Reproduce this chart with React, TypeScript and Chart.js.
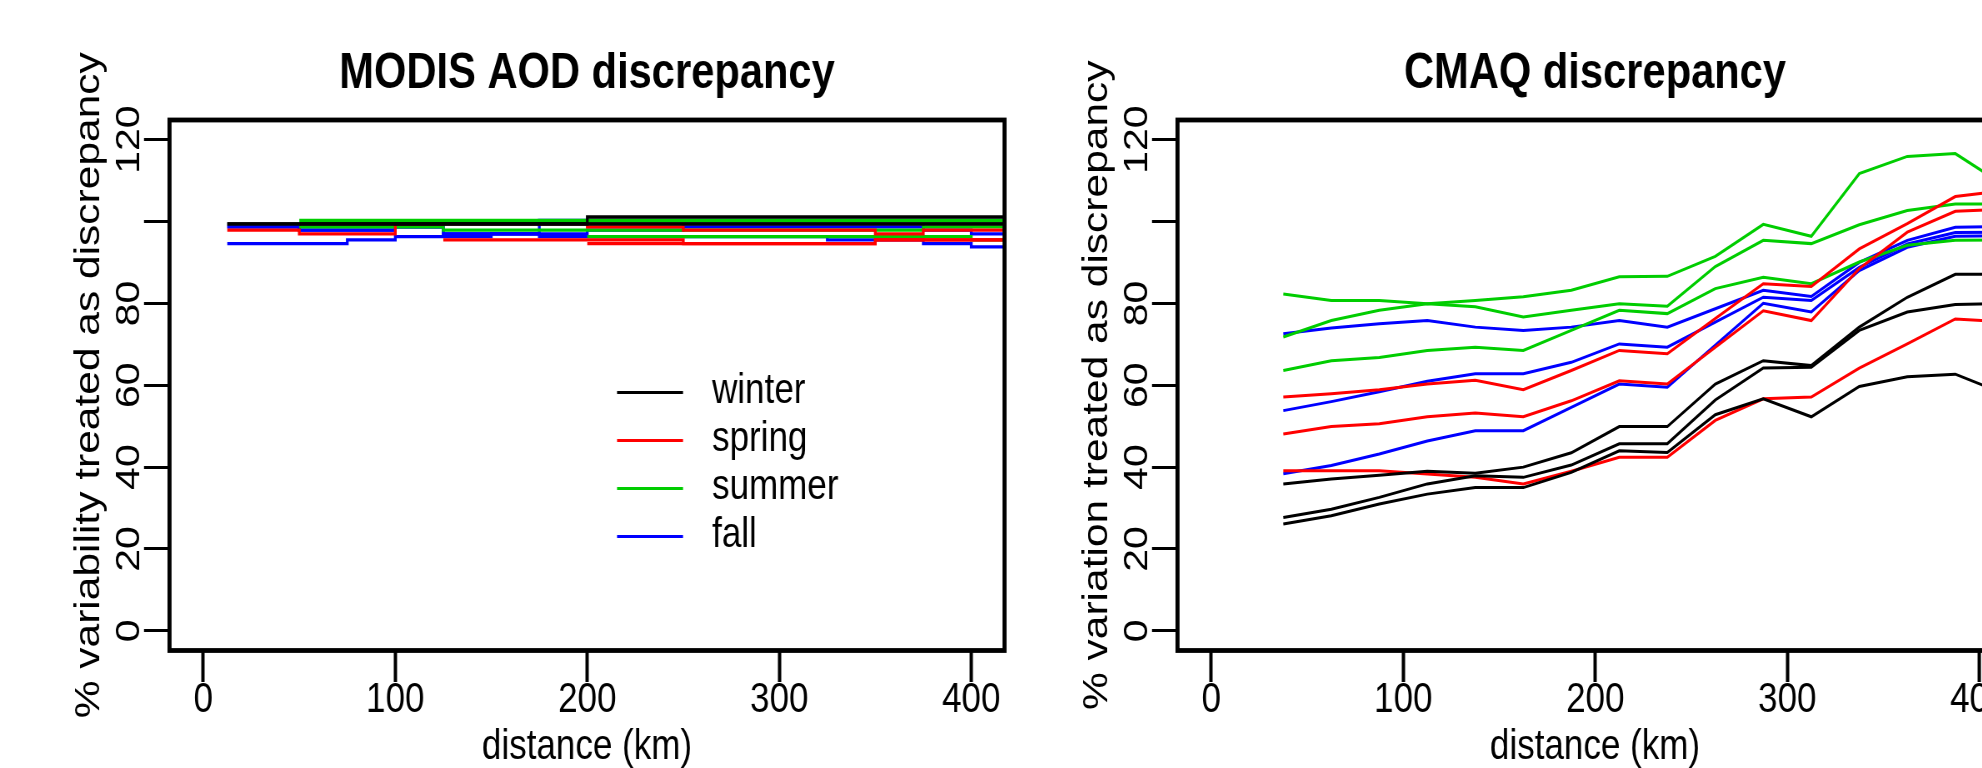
import React, { useEffect, useRef } from "react";
import { Chart, registerables } from "chart.js";

Chart.register(...registerables);

const REGULAR = '"Liberation Sans", Arial, sans-serif';

// The reference picture is horizontally condensed: the canvas is drawn wider
// than it is displayed and squeezed by CSS (SX = internal / displayed width).
const SX = 1.2;
const PANEL_W = 1010; // displayed width of one panel canvas
const PANEL_H = 768;

const seasons = ["winter", "spring", "summer", "fall"];
const seasonColors = ["#000000", "#ff0000", "#00cd00", "#0000ff"];

const xTickValues = [0, 100, 200, 300, 400];
const yTickValues = [0, 20, 40, 60, 80, 100, 120];
const yTickLabels = ["0", "20", "40", "60", "80", "", "120"];

// ---------- MODIS AOD discrepancy (step lines) ----------
const modisX = [12.5, 50, 75, 100, 125, 150, 175, 200, 225, 250, 275, 300, 325, 350, 375, 400, 425];
const modisWinter1 = [99.4, 99.4, 99.4, 99.4, 99.4, 99.4, 99.4, 101.1, 101.1, 101.1, 101.1, 101.1, 101.1, 101.1, 101.1, 101.1, 101.1];
const modisWinter2 = [99.4, 99.4, 99.4, 99.4, 99.4, 99.4, 99.4, 99.4, 99.4, 99.4, 99.4, 99.4, 99.4, 99.4, 99.4, 99.4, 99.4];
const modisWinter3 = [null, 99.4, 99.4, 99.4, 99.4, 99.4, 99.4, 99.4, 99.4, 99.4, 99.4, 99.4, 99.4, 99.4, 99.4, 99.4, 99.4];
const modisSpring1 = [97.9, 97.0, 97.0, 99.4, 99.4, 99.4, 99.4, 98.7, 98.7, 97.9, 97.9, 97.9, 97.9, 97.0, 97.9, 97.9, 97.9];
const modisSpring2 = [null, null, null, null, 95.5, 95.5, 95.5, 95.5, 95.5, 94.6, 94.6, 94.6, 94.6, 95.5, 95.5, 95.5, 95.5];
const modisSpring3 = [null, null, null, null, null, null, null, 94.6, 94.6, 94.6, 94.6, 94.6, 94.6, 95.5, 95.5, 95.5, 95.5];
const modisSummer1 = [null, 100.3, 100.3, 100.3, 100.3, 100.3, 100.3, 100.3, 100.3, 100.3, 100.3, 100.3, 100.3, 100.3, 100.3, 100.3, 100.3];
const modisSummer2 = [null, 98.7, 98.7, 98.7, 97.9, 97.9, 97.9, 97.9, 97.9, 97.9, 97.9, 97.9, 97.9, 97.9, 98.7, 98.7, 98.7];
const modisSummer3 = [null, null, null, null, null, null, null, 96.3, 96.3, 96.3, 96.3, 96.3, 96.3, 96.3, 96.3, 95.5, 95.5];
const modisFall1 = [98.7, 97.9, 97.9, 98.7, 97.0, 97.0, 100.3, 100.3, 100.3, 100.3, 100.3, 100.3, 100.3, 100.3, 100.3, 100.3, 100.3];
const modisFall2 = [98.7, 97.9, 97.9, 98.7, 97.0, 97.0, 97.0, 97.9, 97.9, 98.7, 98.7, 98.7, 98.7, 98.7, 97.9, 97.0, 97.0];
const modisFall3 = [94.6, 94.6, 95.5, 96.3, 96.3, 97.0, 96.3, 96.3, 96.3, 96.3, 96.3, 96.3, 95.5, 95.5, 94.6, 93.8, 93.8];

// ---------- CMAQ discrepancy (polylines) ----------
const cmaqX = [37.5, 62.5, 87.5, 112.5, 137.5, 162.5, 187.5, 212.5, 237.5, 262.5, 287.5, 312.5, 337.5, 362.5, 387.5, 412.5];
const cmaqWinterA = [35.9, 37.1, 38.0, 39.0, 38.5, 40.0, 43.5, 49.9, 49.9, 60.3, 66.0, 64.8, 74.2, 81.5, 87.1, 87.1];
const cmaqWinterB = [27.7, 29.7, 32.6, 35.9, 37.9, 37.5, 40.5, 45.7, 45.7, 56.4, 64.2, 64.4, 73.4, 77.9, 79.7, 80.0];
const cmaqWinterC = [26.1, 28.1, 31.0, 33.4, 35.0, 35.0, 38.7, 44.0, 43.6, 52.8, 56.7, 52.3, 59.7, 62.1, 62.7, 58.0];
const cmaqSpringA = [57.1, 57.9, 58.9, 60.3, 61.2, 58.9, 63.6, 68.5, 67.7, 76.3, 84.8, 84.1, 93.3, 99.5, 106.1, 107.5];
const cmaqSpringB = [48.1, 49.9, 50.6, 52.3, 53.2, 52.3, 56.2, 61.1, 60.3, 69.3, 78.2, 75.8, 88.5, 97.4, 102.5, 103.0];
const cmaqSpringC = [39.1, 39.1, 39.1, 38.3, 37.5, 35.9, 39.0, 42.4, 42.4, 51.4, 56.7, 57.1, 64.2, 70.1, 76.2, 75.5];
const cmaqSummerA = [82.3, 80.7, 80.7, 79.9, 80.7, 81.6, 83.2, 86.5, 86.6, 91.5, 99.3, 96.4, 111.7, 115.9, 116.6, 109.0];
const cmaqSummerB = [71.8, 75.8, 78.3, 79.9, 79.2, 76.7, 78.3, 79.9, 79.3, 89.0, 95.4, 94.6, 99.2, 102.7, 104.3, 104.3];
const cmaqSummerC = [63.6, 66.0, 66.8, 68.5, 69.3, 68.5, 73.4, 78.3, 77.5, 83.6, 86.4, 84.8, 90.1, 94.2, 95.4, 95.5];
const cmaqFallA = [72.6, 74.0, 75.0, 75.8, 74.2, 73.4, 74.2, 75.8, 74.2, 78.7, 83.2, 81.7, 90.0, 95.4, 98.6, 98.8];
const cmaqFallB = [53.8, 56.0, 58.4, 61.0, 62.8, 62.8, 65.6, 70.1, 69.3, 75.4, 81.5, 80.7, 88.8, 94.5, 97.3, 97.4];
const cmaqFallC = [38.4, 40.4, 43.2, 46.4, 48.9, 48.9, 54.6, 60.3, 59.5, 69.8, 80.0, 77.9, 88.0, 93.7, 96.4, 96.5];

const modisSeries = [
  [modisWinter1, modisWinter2, modisWinter3],
  [modisSpring1, modisSpring2, modisSpring3],
  [modisSummer1, modisSummer2, modisSummer3],
  [modisFall1, modisFall2, modisFall3],
];
const cmaqSeries = [
  [cmaqWinterA, cmaqWinterB, cmaqWinterC],
  [cmaqSpringA, cmaqSpringB, cmaqSpringC],
  [cmaqSummerA, cmaqSummerB, cmaqSummerC],
  [cmaqFallA, cmaqFallB, cmaqFallC],
];

// legend anchor in data units (left end of first legend line)
const legendAnchor = { x: 215.5, y: 58.2 };

const framePlugin = {
  id: "frame",
  afterDatasetsDraw(chart: any) {
    const { ctx, chartArea: a } = chart;
    ctx.save();
    ctx.strokeStyle = "#000";
    ctx.lineWidth = 4.8;
    ctx.strokeRect(a.left, a.top, a.right - a.left, a.bottom - a.top);
    ctx.restore();
  },
};

const legendPlugin = {
  id: "seasonLegend",
  afterDraw(chart: any) {
    const { ctx } = chart;
    const x0 = chart.scales.x.getPixelForValue(legendAnchor.x);
    const y0 = chart.scales.y.getPixelForValue(legendAnchor.y);
    ctx.save();
    seasons.forEach((name, i) => {
      const y = y0 + i * 48;
      ctx.strokeStyle = seasonColors[i];
      ctx.lineWidth = 3;
      ctx.beginPath();
      ctx.moveTo(x0, y);
      ctx.lineTo(x0 + 66 * SX, y);
      ctx.stroke();
      ctx.fillStyle = "#000";
      ctx.font = `42px ${REGULAR}`;
      ctx.textBaseline = "middle";
      ctx.textAlign = "left";
      ctx.fillText(name, x0 + 95 * SX, y - 1);
    });
    ctx.restore();
  },
};

function makeConfig(
  title: string,
  yTitle: string,
  xs: number[],
  series: (number | null)[][][],
  stepped: boolean,
  lineWidth: number,
  withLegend: boolean
): any {
  const datasets: any[] = [];
  series.forEach((group, si) => {
    group.forEach((vals, k) => {
      datasets.push({
        label: `${seasons[si]} ${k + 1}`,
        data: xs.map((x, i) => ({ x, y: vals[i] })),
        borderColor: seasonColors[si],
        backgroundColor: seasonColors[si],
        borderWidth: lineWidth,
        pointRadius: 0,
        tension: 0,
        fill: false,
        stepped: stepped ? "before" : false,
        spanGaps: false,
      });
    });
  });
  return {
    type: "line",
    data: { datasets },
    plugins: withLegend ? [framePlugin, legendPlugin] : [framePlugin],
    options: {
      animation: false,
      responsive: false,
      devicePixelRatio: 1,
      events: [],
      layout: { padding: { left: 0, right: (PANEL_W - 1004.5) * SX, top: 0, bottom: 0 } },
      plugins: {
        legend: { display: false },
        tooltip: { enabled: false },
        title: {
          display: true,
          text: title,
          color: "#000",
          fullSize: false,
          font: { family: REGULAR, weight: "bold", size: 50, lineHeight: 1 },
          padding: { top: 49, bottom: 21 },
        },
      },
      scales: {
        x: {
          type: "linear",
          min: -17.6,
          max: 417.3,
          afterBuildTicks: (s: any) => {
            s.ticks = xTickValues.map((v) => ({ value: v }));
          },
          afterFit: (s: any) => {
            s.height = 117.5;
          },
          ticks: {
            autoSkip: false,
            maxRotation: 0,
            minRotation: 0,
            padding: -3,
            color: "#000",
            font: { family: REGULAR, size: 42, lineHeight: 1 },
            callback: (v: any) => String(v),
          },
          grid: {
            display: true,
            drawOnChartArea: false,
            drawTicks: true,
            tickLength: 31.5,
            tickWidth: 4,
            tickColor: "#000",
          },
          border: { display: false },
          title: {
            display: true,
            text: "distance (km)",
            color: "#000",
            font: { family: REGULAR, size: 42, lineHeight: 1 },
            padding: { top: 0, bottom: 0 },
          },
        },
        y: {
          type: "linear",
          min: -4.8,
          max: 124.8,
          afterBuildTicks: (s: any) => {
            s.ticks = yTickValues.map((v) => ({ value: v }));
          },
          afterFit: (s: any) => {
            s.width = 169.5 * SX;
          },
          ticks: {
            autoSkip: false,
            minRotation: 90,
            maxRotation: 90,
            crossAlign: "center",
            padding: -16.8,
            color: "#000",
            font: { family: REGULAR, size: 41, lineHeight: 1 },
            callback: (_v: any, i: number) => yTickLabels[i],
          },
          grid: {
            display: true,
            drawOnChartArea: false,
            drawTicks: true,
            tickLength: 25.5 * SX,
            tickWidth: 3,
            tickColor: "#000",
          },
          border: { display: false },
          title: {
            display: true,
            text: yTitle,
            color: "#000",
            font: { family: REGULAR, size: 42.5, lineHeight: 1 },
            padding: { top: 89 * SX - 21.25, bottom: 0 },
          },
        },
      },
    },
  };
}

export default function App() {
  const leftRef = useRef<HTMLCanvasElement>(null);
  const rightRef = useRef<HTMLCanvasElement>(null);

  useEffect(() => {
    const left = new Chart(
      leftRef.current as HTMLCanvasElement,
      makeConfig("MODIS AOD discrepancy", "% variability treated as discrepancy", modisX, modisSeries, true, 3.3, true)
    );
    const right = new Chart(
      rightRef.current as HTMLCanvasElement,
      makeConfig("CMAQ discrepancy", "% variation treated as discrepancy", cmaqX, cmaqSeries, false, 3, false)
    );
    return () => {
      left.destroy();
      right.destroy();
    };
  }, []);

  const canvasStyle = (left: number): React.CSSProperties => ({
    position: "absolute",
    left,
    top: 0,
    width: PANEL_W,
    height: PANEL_H,
  });

  return (
    <div
      style={{
        position: "fixed",
        left: 0,
        top: 0,
        width: 1982,
        height: 768,
        overflow: "hidden",
        background: "#ffffff",
      }}
    >
      <canvas ref={leftRef} width={Math.round(PANEL_W * SX)} height={PANEL_H} style={canvasStyle(0)} />
      <canvas ref={rightRef} width={Math.round(PANEL_W * SX)} height={PANEL_H} style={canvasStyle(1008)} />
    </div>
  );
}
